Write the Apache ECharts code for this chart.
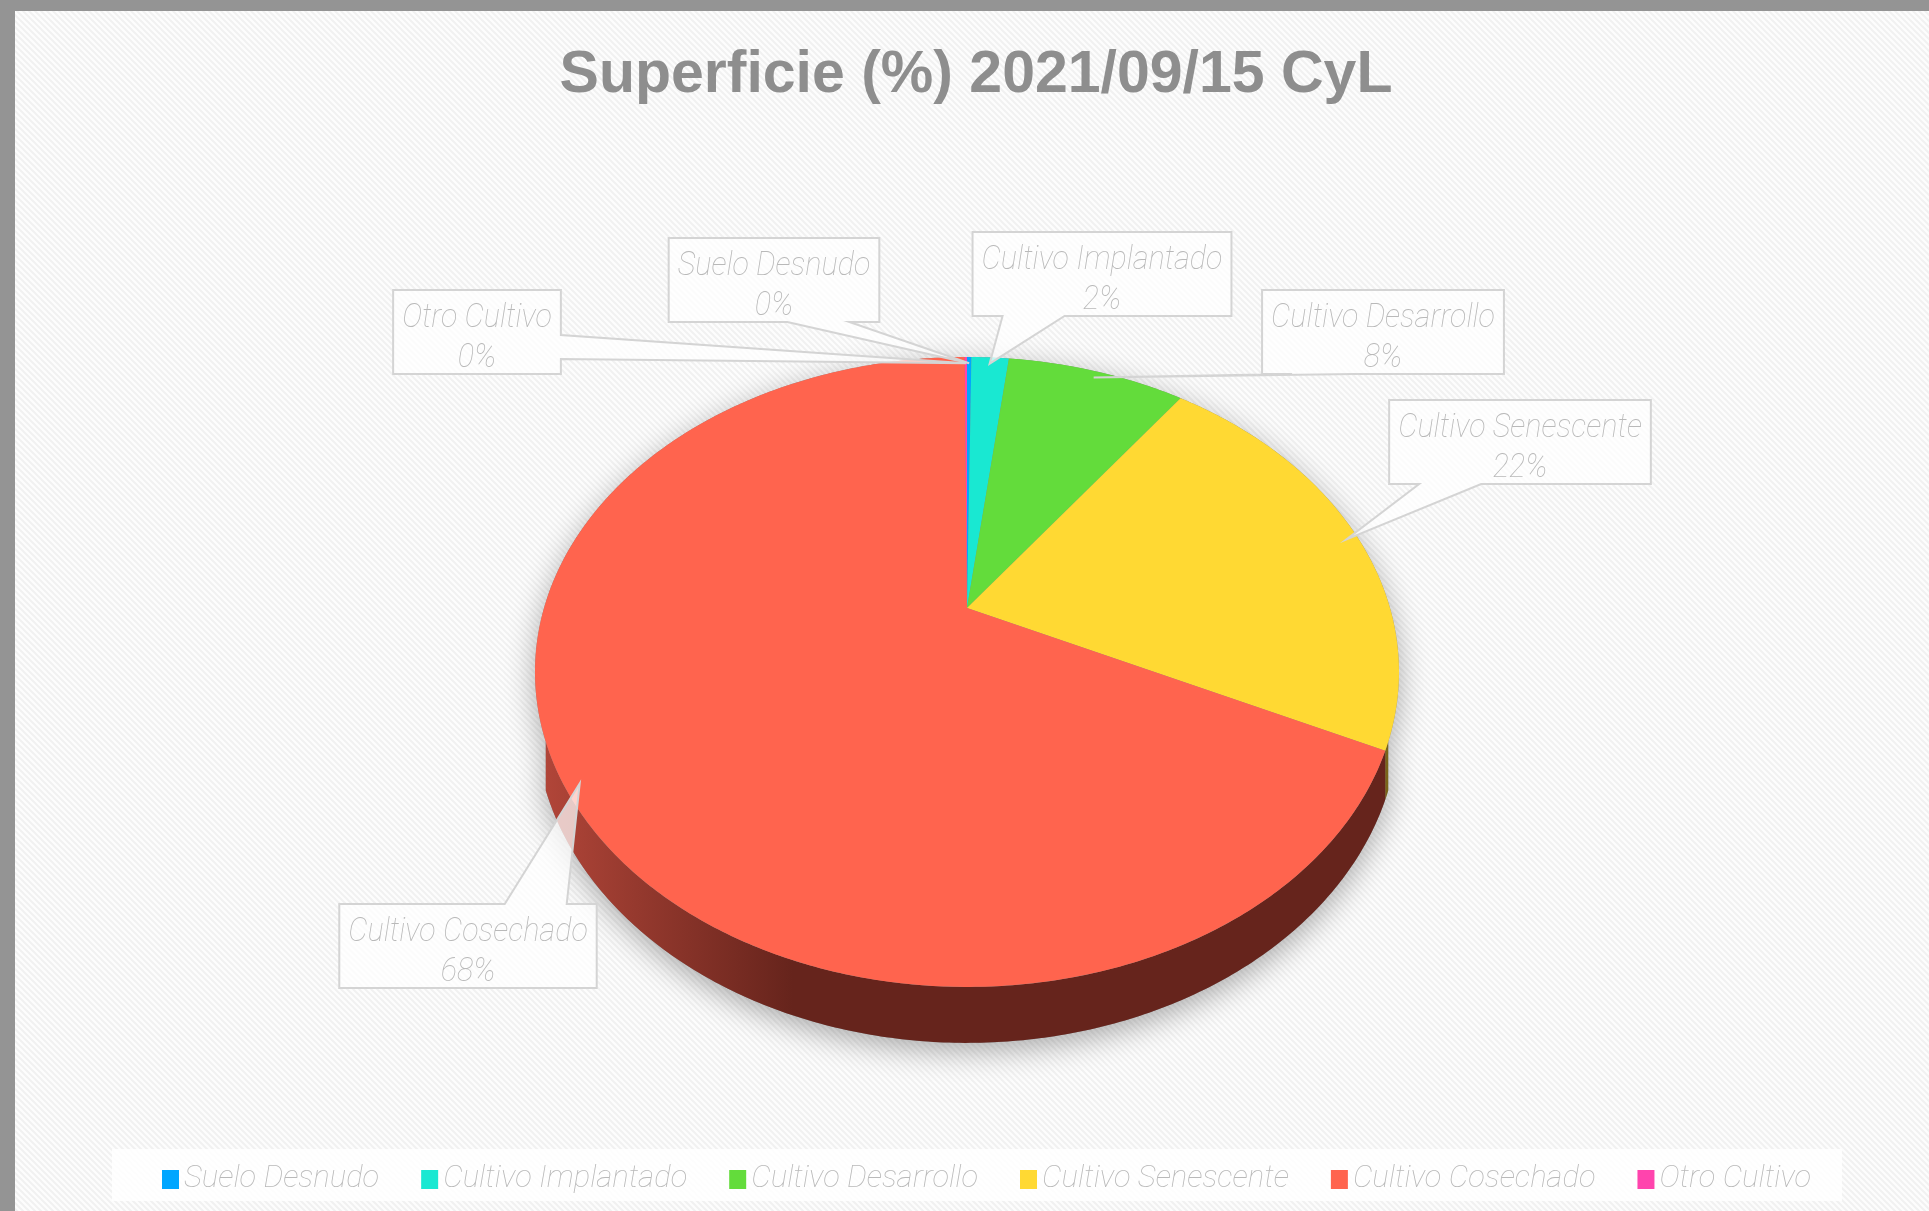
<!DOCTYPE html>
<html>
<head>
<meta charset="utf-8">
<title>Superficie (%) 2021/09/15 CyL</title>
<script src="https://cdn.jsdelivr.net/npm/echarts@6/dist/echarts.min.js"></script>
<style>
html, body { margin: 0; padding: 0; overflow: hidden; background: #959595; }
#chart { width: 1929px; height: 1211px; }
</style>
</head>
<body>
<div id="chart"></div>
<script>
// datos (porcentaje de superficie)
var categories = ['Suelo Desnudo', 'Cultivo Implantado', 'Cultivo Desarrollo', 'Cultivo Senescente', 'Cultivo Cosechado', 'Otro Cultivo'];
var values = [0.2, 1.7, 8.1, 22.1, 67.8, 0.1];
var colors = ['#00a6ff', '#19e8d2', '#63dc3b', '#ffd933', '#ff644e', '#ff44ad'];
var sideLight = ['#0070b0', '#10a090', '#3f9a25', '#b39a24', '#b5473a', '#b02e78'];
var sideDark = ['#004a75', '#0b6b60', '#2a6818', '#7a6419', '#66241c', '#751f50'];

// posicion de las cajas de etiqueta (centro, px)
var labelCenters = [[774, 280], [1102, 274], [1383, 332], [1520, 442], [468, 946], [477, 332]];

var total = 0;
for (var i = 0; i < values.length; i++) total += values[i];

// pastel 3d en perspectiva
var CX = 967, CY = 608, RA = 423, RB = 302, K = 0.203, DEPTH = 44.6;
var T_A = 114 * Math.PI / 180, T_B = 2 * Math.PI - T_A;
var LABEL_FONT = 'italic 100 34px Roboto';
var LABEL_SCALE = 0.9;

function proj(t, r) {
	var u = r * Math.sin(t), v = -r * Math.cos(t), d = 1 - K * v;
	return [CX + RA * u / d, CY + RB * v / d, d];
}

function arc(t0, t1, down) {
	var pts = [];
	var n = Math.max(2, Math.ceil(Math.abs(t1 - t0) / 0.01));
	for (var j = 0; j <= n; j++) {
		var p = proj(t0 + (t1 - t0) * j / n, 1);
		pts.push([p[0], down ? p[1] + DEPTH / p[2] : p[1]]);
	}
	return pts;
}

var measureCtx = document.createElement('canvas').getContext('2d');
function textWidth(s) {
	measureCtx.font = LABEL_FONT;
	return measureCtx.measureText(s).width * LABEL_SCALE;
}

function callout(c, tip, w, h) {
	var x0 = c[0] - w / 2, x1 = c[0] + w / 2, y0 = c[1] - h / 2, y1 = c[1] + h / 2;
	var side;
	if (tip[1] > y1) side = 'bottom';
	else if (tip[1] < y0) side = 'top';
	else if (tip[0] > x1) side = 'right';
	else side = 'left';
	var hw, bc;
	if (side == 'top' || side == 'bottom') {
		hw = 31;
		bc = Math.min(Math.max(tip[0], x0 + 61), x1 - 61);
	} else {
		hw = 12;
		bc = Math.min(Math.max(tip[1], y0 + 27), y1 - 27);
	}
	var pts = [[x0, y0]];
	if (side == 'top') pts.push([bc - hw, y0], tip, [bc + hw, y0]);
	pts.push([x1, y0]);
	if (side == 'right') pts.push([x1, bc - hw], tip, [x1, bc + hw]);
	pts.push([x1, y1]);
	if (side == 'bottom') pts.push([bc + hw, y1], tip, [bc - hw, y1]);
	pts.push([x0, y1]);
	if (side == 'left') pts.push([x0, bc + hw], tip, [x0, bc - hw]);
	return pts;
}

function renderSlice(params, api) {
	var idx = params.seriesIndex;
	var before = 0;
	for (var j = 0; j < idx; j++) before += values[j];
	var val = api.value(0);
	var t0 = 2 * Math.PI * before / total;
	var t1 = 2 * Math.PI * (before + val) / total;
	var children = [];

	if (idx == 0) {
		var outline = arc(T_B, T_A + 2 * Math.PI, false).concat(arc(T_A, T_B, true));
		children.push({
			type: 'polygon', z2: 0, silent: true,
			shape: { points: outline },
			style: { fill: '#8a8a8a', shadowBlur: 30, shadowColor: 'rgba(0,0,0,0.32)', shadowOffsetY: 8 }
		});
	}

	var a = Math.max(t0, T_A), b = Math.min(t1, T_B);
	if (a < b) {
		var side = arc(a, b, false).concat(arc(b, a, true));
		children.push({
			type: 'polygon', z2: 1,
			shape: { points: side },
			style: {
				fill: new echarts.graphic.LinearGradient(CX - RA * 1.03, 0, CX + RA * 1.03, 0, [
					{ offset: 0, color: sideLight[idx] },
					{ offset: 0.3, color: sideDark[idx] },
					{ offset: 1, color: sideDark[idx] }
				], true)
			}
		});
	}

	var top = [[CX, CY]].concat(arc(t0, t1, false));
	children.push({
		type: 'polygon', z2: 2,
		shape: { points: top },
		style: { fill: colors[idx] }
	});

	var tp = proj((t0 + t1) / 2, 0.97);
	var tip = [tp[0], tp[1]];
	var name = categories[idx];
	var pct = Math.round(val / total * 100) + '%';
	var c = labelCenters[idx];
	var w = Math.max(textWidth(name), textWidth(pct)) + 18;
	children.push({
		type: 'polygon', z2: 3, silent: true,
		shape: { points: callout(c, tip, w, 84) },
		style: { fill: 'rgba(255,255,255,0.72)', stroke: '#d4d4d4', lineWidth: 2 }
	});
	children.push({
		type: 'text', z2: 4, silent: true, x: c[0], y: c[1] - 14, scaleX: LABEL_SCALE,
		style: { text: name, font: LABEL_FONT, fill: '#b9b9b9', align: 'center', verticalAlign: 'middle' }
	});
	children.push({
		type: 'text', z2: 4, silent: true, x: c[0], y: c[1] + 26, scaleX: LABEL_SCALE,
		style: { text: pct, font: LABEL_FONT, fill: '#b9b9b9', align: 'center', verticalAlign: 'middle' }
	});

	return { type: 'group', children: children };
}

function stripes() {
	var cv = document.createElement('canvas');
	cv.width = 6; cv.height = 6;
	var ctx = cv.getContext('2d');
	ctx.fillStyle = '#fdfdfd';
	ctx.fillRect(0, 0, 6, 6);
	ctx.strokeStyle = '#f1f1f1';
	ctx.lineWidth = 2;
	ctx.beginPath();
	ctx.moveTo(-1, -1); ctx.lineTo(7, 7);
	ctx.moveTo(-1, 5); ctx.lineTo(1, 7);
	ctx.moveTo(5, -1); ctx.lineTo(7, 1);
	ctx.stroke();
	return cv;
}

var series = [];
for (var i = 0; i < categories.length; i++) {
	series.push({
		name: categories[i],
		type: 'custom',
		coordinateSystem: 'none',
		renderItem: renderSlice,
		itemStyle: { color: colors[i] },
		data: [[values[i]]],
		animation: false
	});
}

var myChart = echarts.init(document.getElementById('chart'));
var option = {
	backgroundColor: '#fbfbfb',
	animation: false,
	title: {
		text: 'Superficie (%) 2021/09/15 CyL',
		left: 971,
		textAlign: 'center',
		top: 41,
		textStyle: {
			fontFamily: 'Liberation Sans, Helvetica, Arial, sans-serif',
			fontSize: 59,
			fontWeight: 'bold',
			color: '#8e8e8e'
		}
	},
	graphic: [
		{ type: 'rect', z: -10, silent: true, shape: { x: 0, y: 0, width: 1929, height: 1211 }, style: { fill: { image: stripes(), repeat: 'repeat' } } },
		{ type: 'rect', z: -5, silent: true, shape: { x: 112, y: 1149, width: 1730, height: 52 }, style: { fill: 'rgba(255,255,255,0.85)' } },
		{ type: 'rect', z: -1, silent: true, shape: { x: 0, y: 0, width: 1929, height: 11 }, style: { fill: '#949494' } },
		{ type: 'rect', z: -1, silent: true, shape: { x: 0, y: 0, width: 15, height: 1211 }, style: { fill: '#949494' } }
	],
	legend: {
		data: categories,
		left: 157,
		top: 1159,
		icon: 'rect',
		itemWidth: 17,
		itemHeight: 19,
		itemGap: 42,
		selectedMode: false,
		textStyle: {
			fontFamily: 'Roboto',
			fontStyle: 'italic',
			fontWeight: 100,
			fontSize: 31,
			color: '#b9b9b9'
		}
	},
	series: series
};
myChart.setOption(option);
</script>
</body>
</html>
